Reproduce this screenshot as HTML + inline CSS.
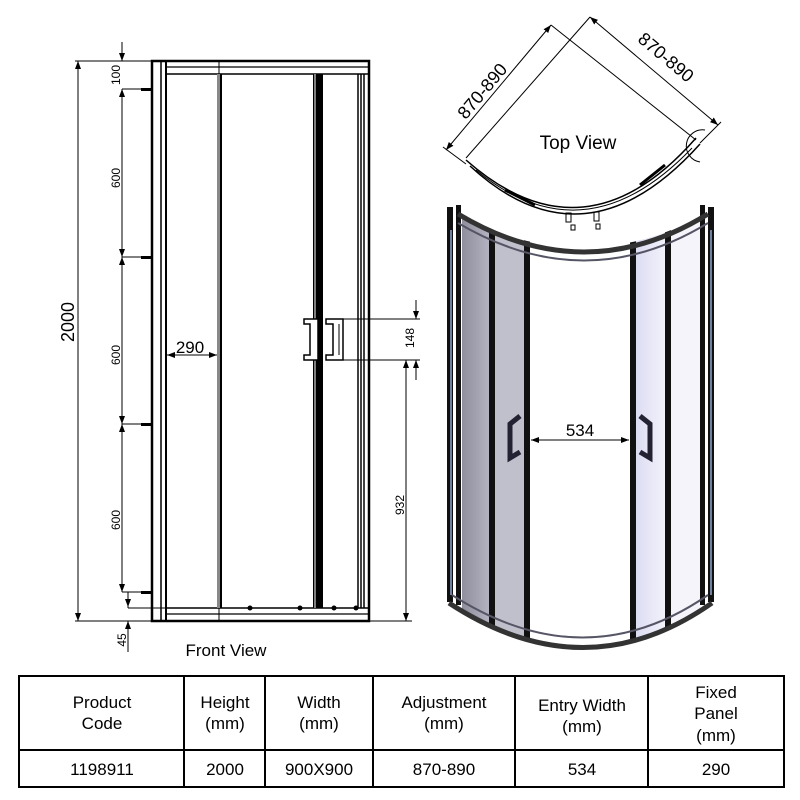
<!DOCTYPE html>
<html><head><meta charset="utf-8"><style>
html,body{margin:0;padding:0;background:#fff;}
svg{display:block;font-family:"Liberation Sans",Arial,sans-serif;}
</style></head><body>
<svg width="800" height="800" viewBox="0 0 800 800" xmlns="http://www.w3.org/2000/svg">
<defs>
<marker id="a" markerWidth="8" markerHeight="6" refX="8" refY="3" orient="auto" markerUnits="userSpaceOnUse"><path d="M0,0 L8,3 L0,6 z" fill="#000"/></marker>
<marker id="b" markerWidth="8" markerHeight="6" refX="0" refY="3" orient="auto" markerUnits="userSpaceOnUse"><path d="M8,0 L0,3 L8,6 z" fill="#000"/></marker>
<linearGradient id="g1" x1="0" x2="1"><stop offset="0" stop-color="#8e8e9c"/><stop offset="1" stop-color="#b4b4c2"/></linearGradient>
<linearGradient id="g2" x1="0" x2="1"><stop offset="0" stop-color="#dcdcf2"/><stop offset="1" stop-color="#f2f2fb"/></linearGradient>
<clipPath id="cp"><path d="M440,205 Q585,290 720,205 V600 Q585,690 440,600 Z"/></clipPath>
</defs>

<!-- FRONT VIEW -->
<g stroke="#000" fill="none">
<rect x="152" y="61" width="217" height="560" stroke-width="2.5"/>
<line x1="161" y1="61" x2="161" y2="621" stroke-width="1.5"/>
<line x1="166" y1="61" x2="166" y2="621" stroke-width="2"/>
<line x1="166" y1="67" x2="369" y2="67" stroke-width="1.2"/>
<line x1="166" y1="74" x2="369" y2="74" stroke-width="1.5"/>
<line x1="166" y1="608" x2="369" y2="608" stroke-width="1.5"/>
<line x1="166" y1="614" x2="369" y2="614" stroke-width="1.2"/>
<line x1="219" y1="61" x2="219" y2="621" stroke-width="1"/>
<rect x="217" y="74" width="5" height="534" fill="#888" stroke="none"/>
<line x1="221" y1="74" x2="221" y2="608" stroke-width="2"/>
<rect x="313" y="74" width="10" height="534" fill="#000" stroke="none"/>
<line x1="315" y1="74" x2="315" y2="608" stroke="#fff" stroke-width="1"/>
<line x1="358" y1="74" x2="358" y2="608" stroke-width="1.5"/>
<line x1="361" y1="74" x2="361" y2="608" stroke-width="1.5"/>
<line x1="364" y1="74" x2="364" y2="608" stroke-width="1.5"/>
<path d="M304,319 H318 V360 H304 V355 H310 V324 H304 Z" fill="#fff" stroke-width="1.5"/>
<path d="M326,319 H343 V360 H326 V355 H333 V324 H326 Z" fill="#fff" stroke-width="1.5"/>
<line x1="339" y1="324" x2="339" y2="355" stroke-width="1"/>
<g fill="#000" stroke="none"><circle cx="250" cy="608" r="2.5"/><circle cx="300" cy="608" r="2.5"/><circle cx="334" cy="608" r="2.5"/><circle cx="356" cy="608" r="2.5"/></g>
</g>

<g stroke="#000" stroke-width="1" fill="none">
<line x1="75" y1="61" x2="152" y2="61"/>
<line x1="75" y1="621" x2="152" y2="621"/>
<line x1="78" y1="61" x2="78" y2="621" marker-start="url(#b)" marker-end="url(#a)"/>
<line x1="122" y1="42" x2="122" y2="61" marker-end="url(#a)"/>
<line x1="122" y1="89" x2="122" y2="257" marker-start="url(#b)" marker-end="url(#a)"/>
<line x1="122" y1="257" x2="122" y2="424" marker-start="url(#b)" marker-end="url(#a)"/>
<line x1="122" y1="424" x2="122" y2="592" marker-start="url(#b)" marker-end="url(#a)"/>
<line x1="122" y1="89" x2="150" y2="89"/><line x1="122" y1="257" x2="150" y2="257"/><line x1="122" y1="424" x2="150" y2="424"/><line x1="122" y1="592" x2="150" y2="592"/>
<line x1="128" y1="592" x2="128" y2="608"/>
<line x1="128" y1="608" x2="166" y2="608"/>
<line x1="128" y1="652" x2="128" y2="621" marker-end="url(#a)"/>
<line x1="128" y1="592" x2="128" y2="607" marker-end="url(#a)"/>
<line x1="167" y1="355" x2="217" y2="355" marker-start="url(#b)" marker-end="url(#a)"/>
<line x1="343" y1="319" x2="420" y2="319"/>
<line x1="343" y1="360" x2="420" y2="360"/>
<line x1="369" y1="621" x2="412" y2="621"/>
<line x1="416" y1="300" x2="416" y2="319" marker-end="url(#a)"/>
<line x1="416" y1="380" x2="416" y2="360" marker-end="url(#a)"/>
<line x1="406" y1="360" x2="406" y2="621" marker-start="url(#b)" marker-end="url(#a)"/>
</g>
<g fill="#000" stroke="none">
<rect x="141" y="88" width="11" height="3"/><rect x="141" y="256" width="11" height="3"/><rect x="141" y="423" width="11" height="3"/><rect x="141" y="591" width="11" height="3"/>
</g>
<g fill="#000" font-size="12">
<text transform="translate(120,75) rotate(-90)" text-anchor="middle">100</text>
<text transform="translate(120,178) rotate(-90)" text-anchor="middle">600</text>
<text transform="translate(120,355) rotate(-90)" text-anchor="middle">600</text>
<text transform="translate(120,520) rotate(-90)" text-anchor="middle">600</text>
<text transform="translate(126,640) rotate(-90)" text-anchor="middle">45</text>
<text transform="translate(414,338) rotate(-90)" text-anchor="middle">148</text>
<text transform="translate(404,505) rotate(-90)" text-anchor="middle">932</text>
</g>
<text transform="translate(74,322) rotate(-90)" text-anchor="middle" font-size="18">2000</text>
<text x="190" y="353" text-anchor="middle" font-size="17">290</text>
<text x="226" y="656" text-anchor="middle" font-size="17">Front View</text>

<!-- TOP VIEW -->
<g stroke="#000" stroke-width="1" fill="none">
<line x1="446" y1="150" x2="551" y2="25" marker-start="url(#b)" marker-end="url(#a)"/>
<line x1="590" y1="17" x2="718" y2="125" marker-start="url(#b)" marker-end="url(#a)"/>
<line x1="466" y1="158" x2="590" y2="17"/>
<line x1="551" y1="25" x2="696" y2="140"/>
<line x1="443" y1="147" x2="466" y2="164"/>
<line x1="700" y1="143" x2="721" y2="122"/>
<path d="M466,160 Q585,265 696,138" stroke-width="1.5"/>
<path d="M470,166 Q585,272 700,144" stroke-width="1.5"/>
<path d="M476,170 Q585,260 692,148" stroke-width="1"/>
<path d="M505,190 L535,205" stroke-width="3"/>
<path d="M640,185 L665,165" stroke-width="3"/>
<path d="M705,130 A16,16 0 1 0 700,162"/>
<rect x="566" y="213" width="5" height="9"/><rect x="594" y="212" width="5" height="9"/>
<rect x="571" y="225" width="4" height="5"/><rect x="596" y="224" width="4" height="5"/>
</g>
<g fill="#000" font-size="18">
<text transform="translate(487,95) rotate(-50)" text-anchor="middle">870-890</text>
<text transform="translate(662,62) rotate(40)" text-anchor="middle">870-890</text>
</g>
<text x="578" y="149" text-anchor="middle" font-size="19">Top View</text>

<!-- CURVED ENCLOSURE -->
<g clip-path="url(#cp)">
<rect x="462" y="200" width="28" height="460" fill="url(#g1)"/>
<rect x="495" y="200" width="30" height="460" fill="#c0c0cc"/>
<rect x="635" y="200" width="30" height="460" fill="url(#g2)"/>
<rect x="670" y="200" width="30" height="460" fill="#f4f4fa"/>
<g fill="#111">
<rect x="489" y="200" width="6" height="460"/>
<rect x="524" y="200" width="6" height="460"/>
<rect x="630" y="200" width="6" height="460"/>
<rect x="665" y="200" width="6" height="460"/>
</g>
</g>
<g fill="#111">
<rect x="447" y="207" width="6" height="395"/>
<rect x="456" y="205" width="5" height="400"/>
<rect x="700" y="205" width="5" height="400"/>
<rect x="708" y="207" width="6" height="395"/>
</g>
<g fill="none" stroke="#333">
<path d="M458,214 Q585,290 708,214" stroke-width="5"/>
<path d="M458,223 Q585,298 708,223" stroke-width="2" stroke="#556"/>
<path d="M449,603 Q585,692 712,603" stroke-width="5"/>
<path d="M452,595 Q585,680 708,595" stroke-width="2" stroke="#556"/>
</g>
<rect x="450" y="230" width="2" height="365" fill="#7080a0"/>
<rect x="710" y="230" width="2" height="365" fill="#7080a0"/>
<path d="M520,416 L510,424 V458 L520,452" fill="none" stroke="#223" stroke-width="5"/>
<path d="M640,416 L650,424 V458 L640,452" fill="none" stroke="#223" stroke-width="5"/>
<line x1="531" y1="440" x2="629" y2="440" stroke="#000" stroke-width="1" marker-start="url(#b)" marker-end="url(#a)"/>
<text x="580" y="436" text-anchor="middle" font-size="17">534</text>

<!-- TABLE -->
<g stroke="#000" stroke-width="2" fill="none">
<rect x="19" y="676" width="765" height="111"/>
<line x1="19" y1="750" x2="784" y2="750"/>
<line x1="184" y1="676" x2="184" y2="787"/>
<line x1="265" y1="676" x2="265" y2="787"/>
<line x1="373" y1="676" x2="373" y2="787"/>
<line x1="515" y1="676" x2="515" y2="787"/>
<line x1="648" y1="676" x2="648" y2="787"/>
</g>
<g font-size="17" text-anchor="middle" fill="#000">
<text x="102" y="708">Product</text><text x="102" y="729">Code</text>
<text x="225" y="708">Height</text><text x="225" y="729">(mm)</text>
<text x="319" y="708">Width</text><text x="319" y="729">(mm)</text>
<text x="444" y="708">Adjustment</text><text x="444" y="729">(mm)</text>
<text x="582" y="711">Entry Width</text><text x="582" y="732">(mm)</text>
<text x="716" y="698">Fixed</text><text x="716" y="719">Panel</text><text x="716" y="741">(mm)</text>
<text x="102" y="775">1198911</text>
<text x="225" y="775">2000</text>
<text x="319" y="775">900X900</text>
<text x="444" y="775">870-890</text>
<text x="582" y="775">534</text>
<text x="716" y="775">290</text>
</g>
</svg>
</body></html>
